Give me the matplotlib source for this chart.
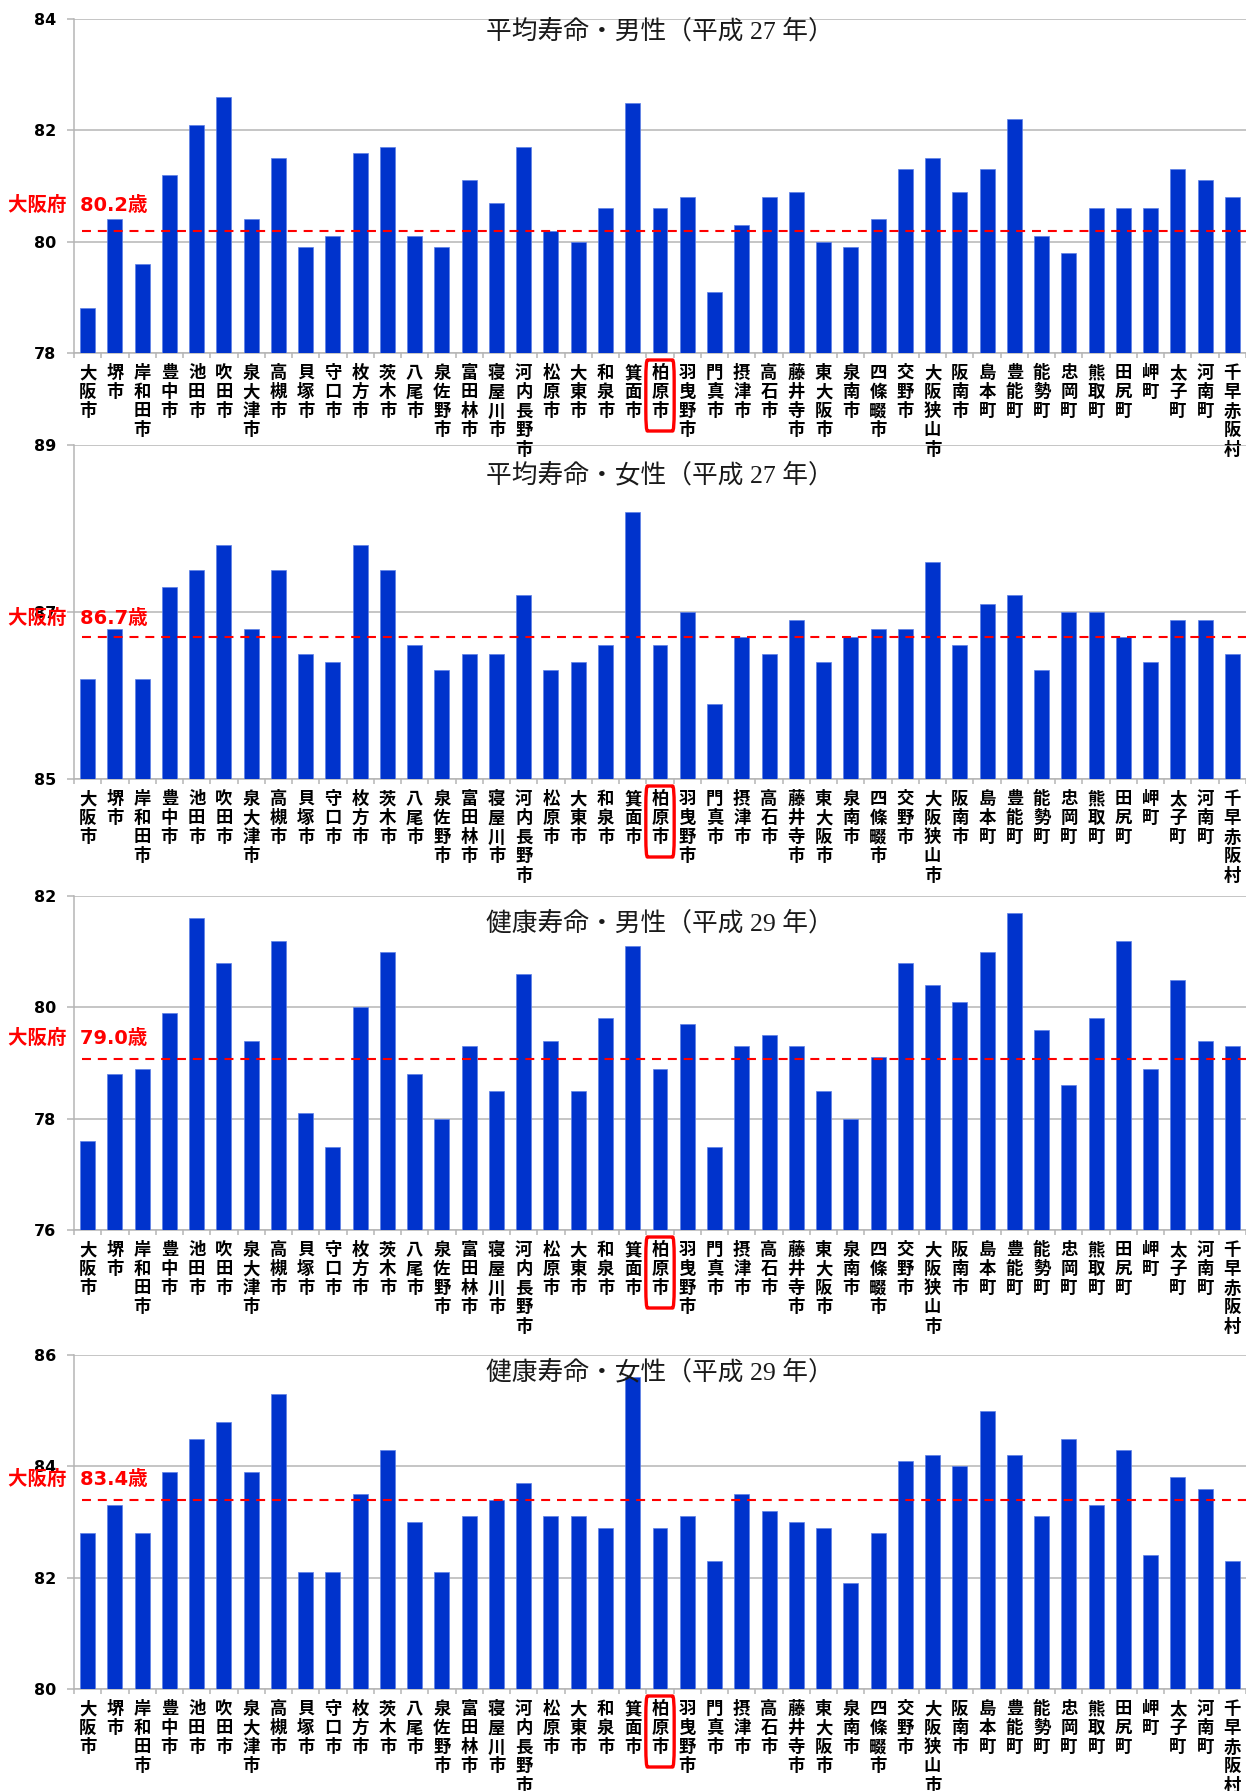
import matplotlib
matplotlib.use("Agg")
import numpy as np
import matplotlib.pyplot as plt
from matplotlib.patches import FancyBboxPatch
from matplotlib.transforms import blended_transform_factory

# ---------------------------------------------------------------- データ
CITIES = ["大阪市", "堺市", "岸和田市", "豊中市", "池田市", "吹田市", "泉大津市", "高槻市",
          "貝塚市", "守口市", "枚方市", "茨木市", "八尾市", "泉佐野市", "富田林市", "寝屋川市",
          "河内長野市", "松原市", "大東市", "和泉市", "箕面市", "柏原市", "羽曳野市", "門真市",
          "摂津市", "高石市", "藤井寺市", "東大阪市", "泉南市", "四條畷市", "交野市", "大阪狭山市",
          "阪南市", "島本町", "豊能町", "能勢町", "忠岡町", "熊取町", "田尻町", "岬町",
          "太子町", "河南町", "千早赤阪村"]

heikin_male = [78.8, 80.4, 79.6, 81.2, 82.1, 82.6, 80.4, 81.5, 79.9, 80.1, 81.6, 81.7, 80.1,
               79.9, 81.1, 80.7, 81.7, 80.2, 80.0, 80.6, 82.5, 80.6, 80.8, 79.1, 80.3, 80.8,
               80.9, 80.0, 79.9, 80.4, 81.3, 81.5, 80.9, 81.3, 82.2, 80.1, 79.8, 80.6, 80.6,
               80.6, 81.3, 81.1, 80.8]
heikin_female = [86.2, 86.8, 86.2, 87.3, 87.5, 87.8, 86.8, 87.5, 86.5, 86.4, 87.8, 87.5, 86.6,
                 86.3, 86.5, 86.5, 87.2, 86.3, 86.4, 86.6, 88.2, 86.6, 87.0, 85.9, 86.7, 86.5,
                 86.9, 86.4, 86.7, 86.8, 86.8, 87.6, 86.6, 87.1, 87.2, 86.3, 87.0, 87.0, 86.7,
                 86.4, 86.9, 86.9, 86.5]
kenko_male = [77.6, 78.8, 78.9, 79.9, 81.6, 80.8, 79.4, 81.2, 78.1, 77.5, 80.0, 81.0, 78.8,
              78.0, 79.3, 78.5, 80.6, 79.4, 78.5, 79.8, 81.1, 78.9, 79.7, 77.5, 79.3, 79.5,
              79.3, 78.5, 78.0, 79.1, 80.8, 80.4, 80.1, 81.0, 81.7, 79.6, 78.6, 79.8, 81.2,
              78.9, 80.5, 79.4, 79.3]
kenko_female = [82.8, 83.3, 82.8, 83.9, 84.5, 84.8, 83.9, 85.3, 82.1, 82.1, 83.5, 84.3, 83.0,
                82.1, 83.1, 83.4, 83.7, 83.1, 83.1, 82.9, 85.6, 82.9, 83.1, 82.3, 83.5, 83.2,
                83.0, 82.9, 81.9, 82.8, 84.1, 84.2, 84.0, 85.0, 84.2, 83.1, 84.5, 83.3, 84.3,
                82.4, 83.8, 83.6, 82.3]

TITLES = ["平均寿命・男性（平成 27 年）", "平均寿命・女性（平成 27 年）",
          "健康寿命・男性（平成 29 年）", "健康寿命・女性（平成 29 年）"]
PREF_LINE = [80.2, 86.7, 79.07, 83.4]          # 大阪府平均(破線位置)
PREF_TEXT = ["80.2", "86.7", "79.0", "83.4"]    # ラベル表記
YLIMS = [(78, 84), (85, 89), (76, 82), (80, 86)]
HIGHLIGHT = "柏原市"

SERIES = [heikin_male, heikin_female, kenko_male, kenko_female]

# ---------------------------------------------------------------- レイアウト(px)
W, H = 1246, 1791
AX_LEFT, AX_RIGHT = 74, 1246
PANEL_TB = [(19, 353), (445, 779), (896, 1230), (1355, 1689)]
TITLE_DY = [12, 30, 27, 17]          # 軸上端からタイトル中心まで
LABEL_DY = [25, 19, 21, 20]          # 破線から大阪府ラベル中心まで

BAR = "#0033cc"
GRID = "#b5b5b5"
JP = ["Noto Sans CJK JP"]
plt.rcParams["font.family"] = ["DejaVu Sans", "Noto Sans CJK JP"]

fig = plt.figure(figsize=(W / 100, H / 100), dpi=100)
x = np.arange(len(CITIES))
hi = CITIES.index(HIGHLIGHT)

for k, (vals, (top, bot)) in enumerate(zip(SERIES, PANEL_TB)):
    ax = fig.add_axes([AX_LEFT / W, 1 - bot / H, (AX_RIGHT - AX_LEFT) / W, (bot - top) / H])
    ax.set_facecolor("none")
    lo, up = YLIMS[k]
    ax.bar(x, np.array(vals) - lo, bottom=lo, width=0.55, color=BAR,
           edgecolor="#5d80e6", linewidth=0.5, zorder=3)
    ax.set_xlim(-0.5, len(CITIES) - 0.5)
    ax.set_ylim(lo, up)
    ax.set_yticks(np.arange(lo, up + 0.1, 2))
    ax.yaxis.grid(True, color=GRID, lw=1.1, zorder=1)
    ax.tick_params(axis="y", length=5, width=1.1, color=GRID, pad=8, labelsize=11.5)
    for t in ax.get_yticklabels():
        t.set_fontweight("bold")
    for s in ("top", "right"):
        ax.spines[s].set_visible(False)
    for s in ("left", "bottom"):
        ax.spines[s].set_color(GRID)
        ax.spines[s].set_linewidth(1.1)

    # x軸: カテゴリ境界に小目盛、名称は縦書き
    ax.set_xticks(x)
    ax.set_xticklabels(["\n".join(c) for c in CITIES], family=JP, fontweight="bold",
                       fontsize=12.5, linespacing=1.08, va="top")
    ax.set_xticks(np.arange(-0.5, len(CITIES), 1), minor=True)
    ax.tick_params(axis="x", which="major", length=0, pad=8)
    ax.tick_params(axis="x", which="minor", length=3.5, width=1.1, color=GRID)

    # 大阪府平均(破線)
    ax.axhline(PREF_LINE[k], xmin=0.007, xmax=1, color="#ff0000", lw=1.5,
               dashes=(4.3, 3.3), zorder=4)
    ax.annotate(f"大阪府  {PREF_TEXT[k]}歳", xy=(0, PREF_LINE[k]),
                xycoords=("axes fraction", "data"),
                xytext=((8 - AX_LEFT) * 0.72, LABEL_DY[k] * 0.72), textcoords="offset points",
                ha="left", va="center", color="#ff0000", fontsize=14, fontweight="bold",
                annotation_clip=False, zorder=5)

    # タイトル(軸内)
    ax.annotate(TITLES[k], xy=(0.5, 1), xycoords="axes fraction",
                xytext=(0, -TITLE_DY[k] * 0.72), textcoords="offset points",
                ha="center", va="center", fontsize=18.5, color="#1a1a1a",
                family=["Liberation Serif", "Noto Sans CJK JP"])

    # 柏原市を赤枠で強調
    tr = blended_transform_factory(ax.transData, ax.transAxes)
    h = bot - top
    box = FancyBboxPatch((hi - 0.52, -78 / h), 1.04, 71 / h,
                         boxstyle="round,pad=0,rounding_size=0.06",
                         transform=tr, fill=False, edgecolor="#ff0000", lw=2.4,
                         clip_on=False, zorder=6)
    ax.add_patch(box)

fig.savefig("out.png", dpi=100)
